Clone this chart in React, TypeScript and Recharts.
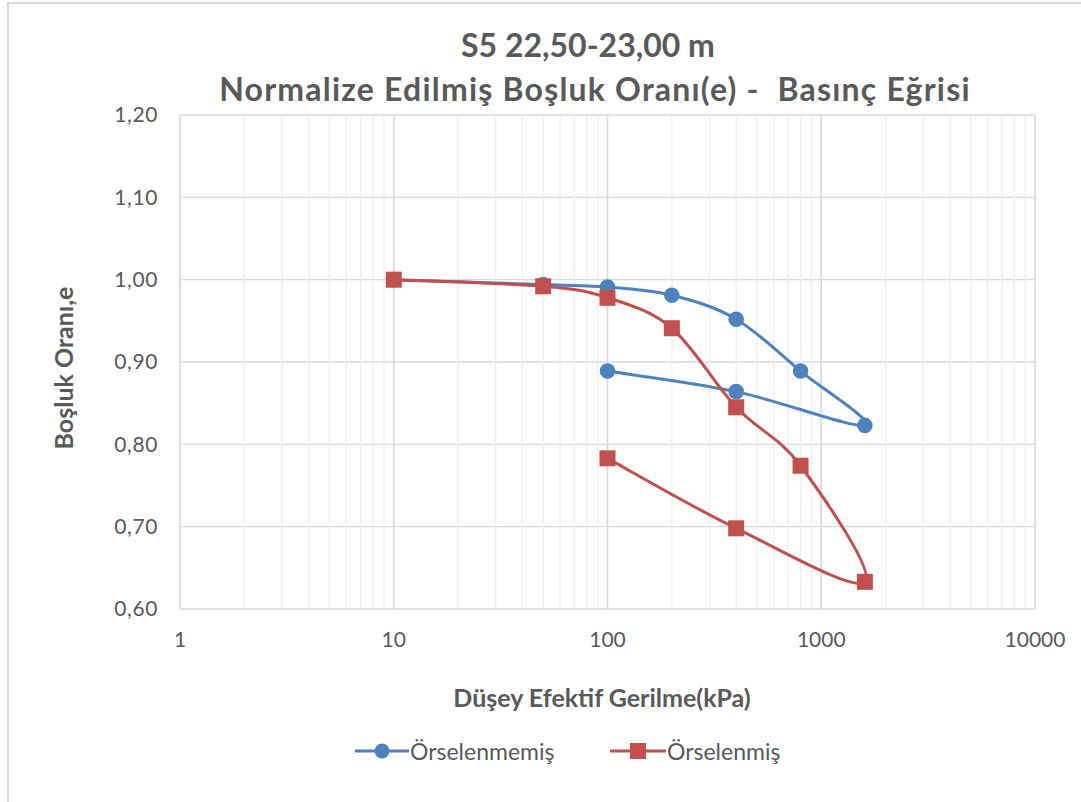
import React from 'react';
import { LineChart, Line, XAxis, YAxis, CartesianGrid, ReferenceLine } from 'recharts';

const undisturbedStress = [10, 50, 100, 200, 400, 800, 1600, 400, 100];
const undisturbedE = [1.0, 0.994, 0.991, 0.981, 0.952, 0.889, 0.823, 0.864, 0.889];
const disturbedStress = [10, 50, 100, 200, 400, 800, 1600, 400, 100];
const disturbedE = [1.0, 0.992, 0.978, 0.941, 0.845, 0.774, 0.633, 0.698, 0.783];

const majorTicks = [1, 10, 100, 1000, 10000];
const minorTicks = [
  1, 2, 3, 4, 5, 6, 7, 8, 9,
  10, 20, 30, 40, 50, 60, 70, 80, 90,
  100, 200, 300, 400, 500, 600, 700, 800, 900,
  1000, 2000, 3000, 4000, 5000, 6000, 7000, 8000, 9000,
  10000,
];
const yTicks = [0.6, 0.7, 0.8, 0.9, 1.0, 1.1, 1.2];

const title1 = 'S5 22,50-23,00 m';
const title2 = 'Normalize Edilmiş Boşluk Oranı(e) -  Basınç Eğrisi';
const xTitle = 'Düşey Efektif Gerilme(kPa)';
const yTitle = 'Boşluk Oranı,e';
const seriesNames = ['Örselenmemiş', 'Örselenmiş'];

const BLUE = '#4F81BD';
const RED = '#C0504D';
const TEXT = '#595959';
const FONT = 'Lato, "Open Sans", sans-serif';

const undisturbed = undisturbedStress.map((x, i) => ({ x, y: undisturbedE[i] }));
const disturbed = disturbedStress.map((x, i) => ({ x, y: disturbedE[i] }));

// Excel-like smoothing (Catmull-Rom as cubic Bezier)
const excelSmooth = (context: any) => {
  let pts: number[][] = [];
  return {
    areaStart() {},
    areaEnd() {},
    lineStart() {
      pts = [];
    },
    point(x: number, y: number) {
      pts.push([+x, +y]);
    },
    lineEnd() {
      const n = pts.length;
      if (!n) return;
      context.moveTo(pts[0][0], pts[0][1]);
      for (let i = 0; i < n - 1; i++) {
        const p0 = pts[Math.max(i - 1, 0)];
        const p1 = pts[i];
        const p2 = pts[i + 1];
        const p3 = pts[Math.min(i + 2, n - 1)];
        context.bezierCurveTo(
          p1[0] + (p2[0] - p0[0]) / 6,
          p1[1] + (p2[1] - p0[1]) / 6,
          p2[0] - (p3[0] - p1[0]) / 6,
          p2[1] - (p3[1] - p1[1]) / 6,
          p2[0],
          p2[1]
        );
      }
    },
  };
};

const SquareDot = (props: any) => {
  const { cx, cy, index } = props;
  if (cx == null || cy == null) return null;
  return <rect key={`sq-${index}`} x={cx - 8} y={cy - 8} width={16} height={16} fill={RED} />;
};

const CircleDot = (props: any) => {
  const { cx, cy, index } = props;
  if (cx == null || cy == null) return null;
  return <circle key={`ci-${index}`} cx={cx} cy={cy} r={7.8} fill={BLUE} />;
};

const fmtY = (v: number) => v.toFixed(2).replace('.', ',');
const fmtX = (v: number) => (majorTicks.includes(v) ? String(v) : '');

export default function App() {
  return (
    <div
      style={{
        position: 'absolute',
        left: 0,
        top: 0,
        width: 1081,
        height: 802,
        overflow: 'hidden',
        background: '#fff',
        fontFamily: FONT,
      }}
    >
      <div
        style={{
          position: 'absolute',
          left: 7,
          top: 2,
          width: 1200,
          height: 900,
          borderLeft: '2px solid #d9d9d9',
          borderTop: '2px solid #d9d9d9',
        }}
      />
      <div
        style={{
          position: 'absolute',
          left: 0,
          top: 0,
          width: 1081,
          height: 802,
        }}
      >
        <LineChart
          width={1081}
          height={802}
          margin={{ top: 115, right: 46, left: 0, bottom: 93 }}
        >
          <CartesianGrid vertical={false} stroke="#d9d9d9" strokeWidth={1.3} />
          <CartesianGrid horizontal={false} stroke="#eeeeee" strokeWidth={1.3} />
          {majorTicks.map((t) => (
            <ReferenceLine key={t} x={t} stroke="#d9d9d9" strokeWidth={1.5} ifOverflow="extendDomain" />
          ))}
          <XAxis
            dataKey="x"
            type="number"
            scale="log"
            domain={[1, 10000]}
            ticks={minorTicks}
            interval={0}
            tickFormatter={fmtX}
            axisLine={false}
            tickLine={false}
            tickSize={0}
            tickMargin={23}
            height={100}
            allowDataOverflow
            tick={{ fill: TEXT, fontSize: 21, fontFamily: FONT }}
          />
          <YAxis
            dataKey="y"
            type="number"
            domain={[0.6, 1.2]}
            ticks={yTicks}
            interval={0}
            tickFormatter={fmtY}
            axisLine={false}
            tickLine={false}
            tickSize={0}
            tickMargin={22}
            width={180}
            allowDataOverflow
            tick={{ fill: TEXT, fontSize: 21, fontFamily: FONT, letterSpacing: 0.6 }}
          />
          <Line
            data={undisturbed}
            dataKey="y"
            type={excelSmooth as any}
            stroke={BLUE}
            strokeWidth={3}
            dot={<CircleDot />}
            activeDot={false}
            isAnimationActive={false}
            name={seriesNames[0]}
          />
          <Line
            data={disturbed}
            dataKey="y"
            type={excelSmooth as any}
            stroke={RED}
            strokeWidth={3}
            dot={<SquareDot />}
            activeDot={false}
            isAnimationActive={false}
            name={seriesNames[1]}
          />
        </LineChart>
      </div>

      <div
        style={{
          position: 'absolute',
          left: 0,
          width: 1176,
          top: 23,
          textAlign: 'center',
          color: TEXT,
          fontWeight: 700,
          fontSize: 32,
          lineHeight: '44px',
          whiteSpace: 'pre',
        }}
      >
        {title1}
      </div>
      <div
        style={{
          position: 'absolute',
          left: 0,
          width: 1190,
          top: 67,
          textAlign: 'center',
          color: TEXT,
          fontWeight: 700,
          fontSize: 32,
          lineHeight: '44px',
          whiteSpace: 'pre',
          letterSpacing: 1.2,
        }}
      >
        {title2}
      </div>

      <div
        style={{
          position: 'absolute',
          left: 0,
          width: 1204,
          top: 682,
          textAlign: 'center',
          color: TEXT,
          fontWeight: 700,
          fontSize: 25,
          lineHeight: '30px',
        }}
      >
        {xTitle}
      </div>

      <div
        style={{
          position: 'absolute',
          left: 63,
          top: 368,
          transform: 'translate(-50%, -50%) rotate(-90deg)',
          color: TEXT,
          fontWeight: 700,
          fontSize: 25,
          lineHeight: '30px',
          whiteSpace: 'nowrap',
        }}
      >
        {yTitle}
      </div>

      <div
        style={{
          position: 'absolute',
          left: 355,
          top: 737,
          height: 28,
          display: 'flex',
          alignItems: 'center',
          color: TEXT,
          fontSize: 23,
        }}
      >
        <svg width={55} height={20}>
          <line x1={0} y1={10} x2={54} y2={10} stroke={BLUE} strokeWidth={3} />
          <circle cx={27} cy={10} r={7.5} fill={BLUE} />
        </svg>
        <span>{seriesNames[0]}</span>
      </div>
      <div
        style={{
          position: 'absolute',
          left: 610,
          top: 737,
          height: 28,
          display: 'flex',
          alignItems: 'center',
          color: TEXT,
          fontSize: 23,
        }}
      >
        <svg width={57} height={20}>
          <line x1={0} y1={10} x2={56} y2={10} stroke={RED} strokeWidth={3} />
          <rect x={20} y={2} width={16} height={16} fill={RED} />
        </svg>
        <span>{seriesNames[1]}</span>
      </div>
    </div>
  );
}
